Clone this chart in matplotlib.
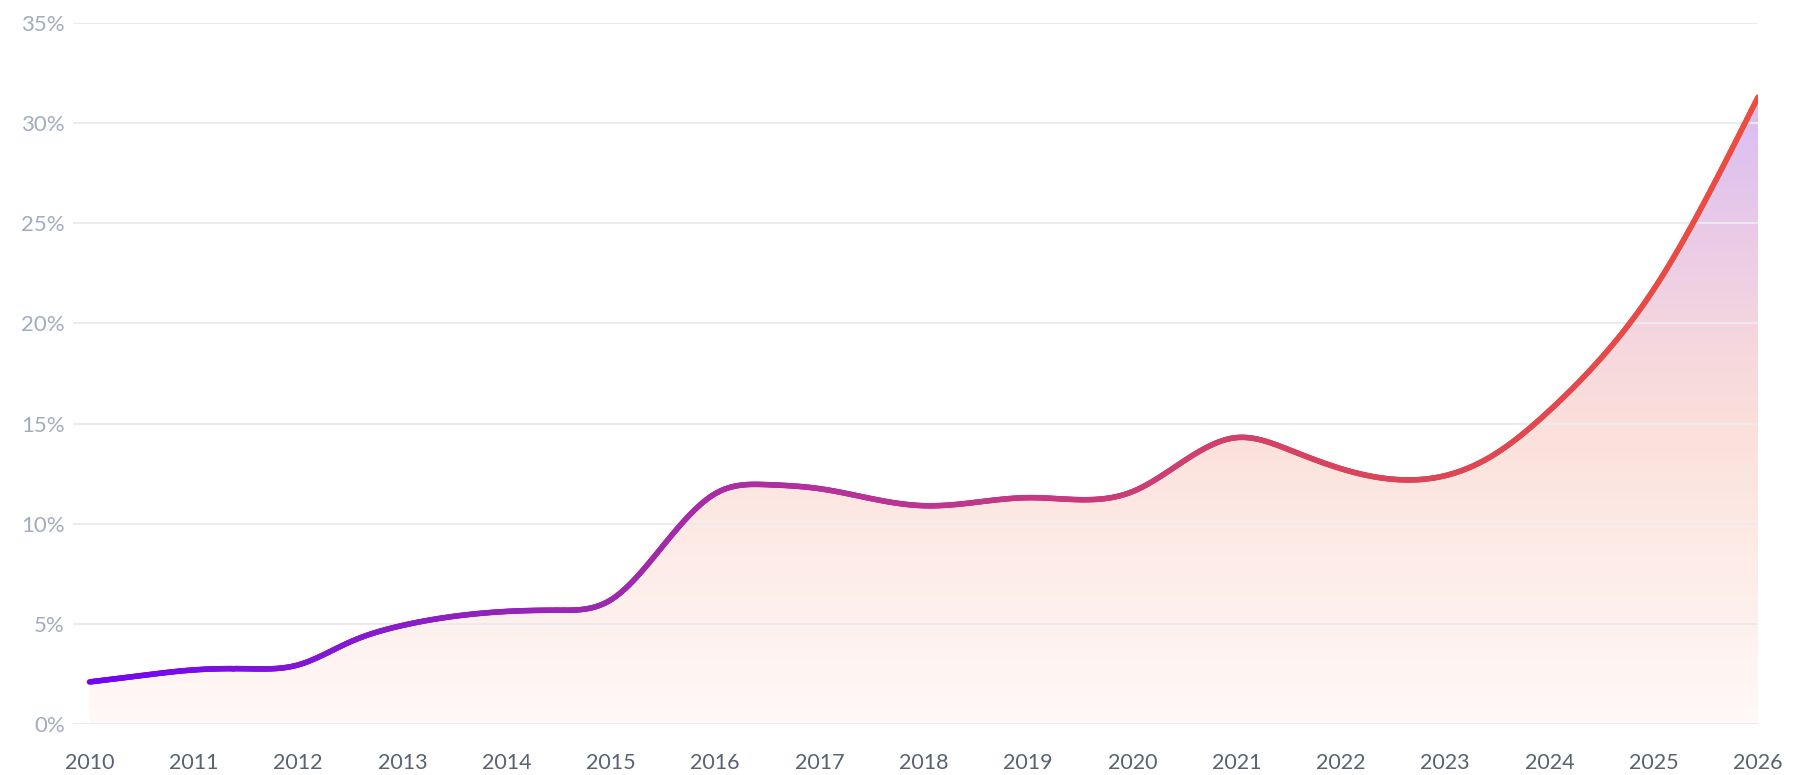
import numpy as np
import matplotlib
matplotlib.use("Agg")
import matplotlib.pyplot as plt
from matplotlib.collections import LineCollection
from matplotlib.colors import LinearSegmentedColormap

# ---- data ----
years = [2010.0, 2010.5, 2011.0, 2011.5, 2012.0, 2012.5, 2013.0, 2013.5,
         2014.0, 2014.5, 2015.0, 2015.5, 2016.0, 2016.5, 2017.0, 2017.5,
         2018.0, 2018.5, 2019.0, 2019.5, 2020.0, 2020.5, 2021.0, 2021.5,
         2022.0, 2022.5, 2023.0, 2023.5, 2024.0, 2024.5, 2025.0, 2025.5,
         2026.0]
values = [2.10, 2.42, 2.70, 2.76, 2.95, 4.10, 4.92, 5.38,
          5.62, 5.68, 6.20, 8.90, 11.50, 11.95, 11.75, 11.25,
          10.90, 11.07, 11.30, 11.20, 11.60, 13.15, 14.30, 13.70,
          12.75, 12.22, 12.40, 13.55, 15.65, 18.30, 21.70, 26.20,
          31.30]
x_ticks = list(range(2010, 2027))
x_tick_labels = [str(y) for y in x_ticks]
y_ticks = [0, 5, 10, 15, 20, 25, 30, 35]
y_tick_labels = [f"{v}%" for v in y_ticks]


def natural_spline(x, y, xs):
    x = np.asarray(x, float); y = np.asarray(y, float)
    n = len(x); h = np.diff(x)
    A = np.zeros((n, n)); r = np.zeros(n)
    A[0, 0] = 1; A[-1, -1] = 1
    for i in range(1, n - 1):
        A[i, i - 1] = h[i - 1]
        A[i, i] = 2 * (h[i - 1] + h[i])
        A[i, i + 1] = h[i]
        r[i] = 3 * ((y[i + 1] - y[i]) / h[i] - (y[i] - y[i - 1]) / h[i - 1])
    c = np.linalg.solve(A, r)
    b = (y[1:] - y[:-1]) / h - h * (2 * c[:-1] + c[1:]) / 3
    d = (c[1:] - c[:-1]) / (3 * h)
    idx = np.clip(np.searchsorted(x, xs) - 1, 0, n - 2)
    dx = xs - x[idx]
    return y[idx] + b[idx] * dx + c[idx] * dx ** 2 + d[idx] * dx ** 3


plt.rcParams['font.family'] = ['Lato', 'DejaVu Sans']

fig = plt.figure(figsize=(18, 7.75), dpi=100)
ax = fig.add_axes([73 / 1800, 1 - 724 / 775, (1758 - 73) / 1800, (724 - 23) / 775])

xs = np.linspace(years[0], years[-1], 1200)
ys = natural_spline(years, values, xs)

x_left = years[0] - (89.5 - 73) / 104.3
ax.set_xlim(x_left, years[-1])
ax.set_ylim(0, 35)

# gradient fill under the curve
ymax = max(values)
fill_cmap = LinearSegmentedColormap.from_list("fill", [
    (0.0, (1.0, 0.978, 0.972)),
    (5 / ymax, (0.995, 0.945, 0.93)),
    (10 / ymax, (0.992, 0.915, 0.895)),
    (15 / ymax, (0.985, 0.875, 0.855)),
    (20 / ymax, (0.955, 0.835, 0.875)),
    (25 / ymax, (0.91, 0.79, 0.91)),
    (1.0, (0.85, 0.74, 0.95)),
])
grad = np.linspace(0, 1, 512).reshape(-1, 1)
poly = ax.fill_between(xs, 0, ys, color='none', lw=0)
im = ax.imshow(grad, cmap=fill_cmap, origin='lower', aspect='auto',
               extent=[years[0], years[-1], 0, ymax], zorder=1,
               interpolation='bilinear')
path = poly.get_paths()[0]
im.set_clip_path(path, transform=ax.transData)

# gridlines
for v in y_ticks:
    ax.axhline(v, color='#ebebef', lw=1.4, zorder=2)

# gradient line
line_cmap = LinearSegmentedColormap.from_list("line", ['#7005f5', '#9324b8', '#bd3590', '#d8445e', '#ee4c3e'])
pts = np.column_stack([xs, ys]).reshape(-1, 1, 2)
segs = np.concatenate([pts[:-1], pts[1:]], axis=1)
lc = LineCollection(segs, cmap=line_cmap, linewidths=4.0, capstyle='round', zorder=3)
lc.set_array((xs[:-1] - years[0]) / (years[-1] - years[0]))
lc.set_clim(0, 1)
ax.add_collection(lc)

for s in ax.spines.values():
    s.set_visible(False)
ax.set_xticks(x_ticks)
ax.set_xticklabels(x_tick_labels)
ax.set_yticks(y_ticks)
ax.set_yticklabels(y_tick_labels)
ax.tick_params(axis='x', length=0, pad=21, labelsize=15.5, labelcolor='#596273')
ax.tick_params(axis='y', length=0, pad=6, labelsize=16, labelcolor='#a3acbd')

fig.savefig("out.png", dpi=100, facecolor='white')
